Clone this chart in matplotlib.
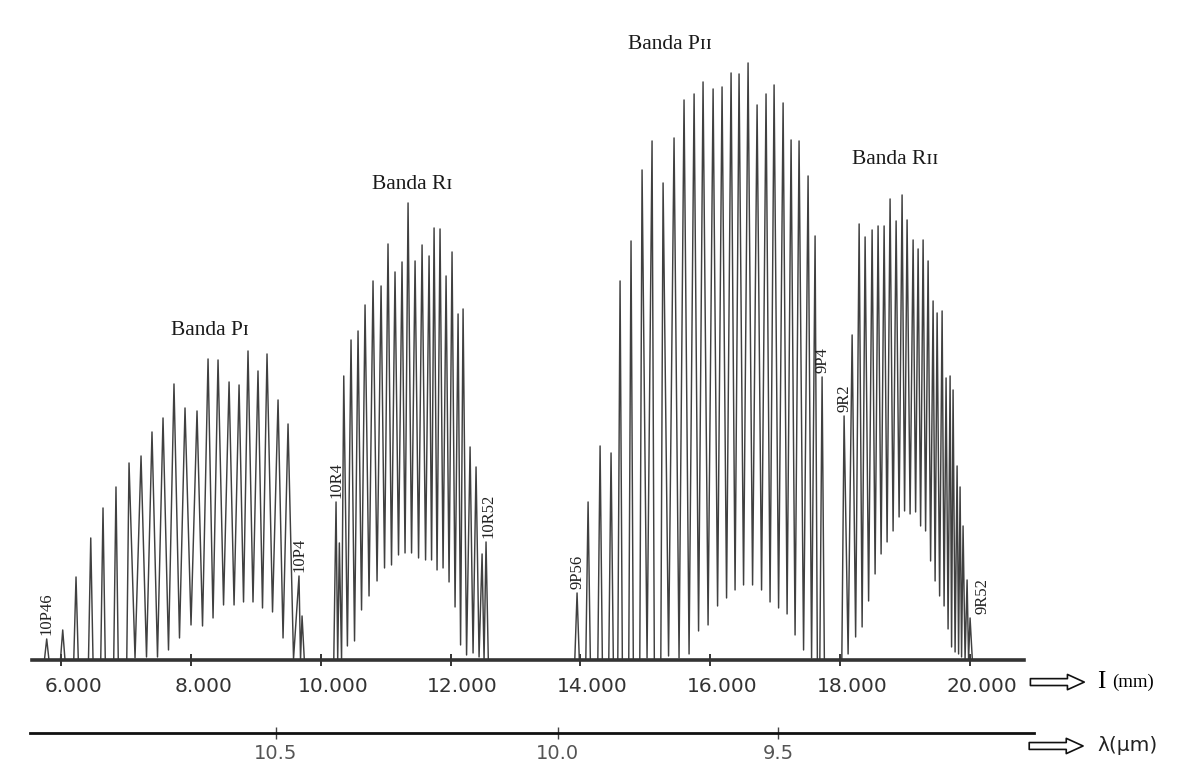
import numpy as np
import matplotlib
matplotlib.use('Agg')
import matplotlib.pyplot as plt
from matplotlib.transforms import ScaledTranslation

# chart position of each laser line (mm along the recorder paper) and trace heights (a.u.)
# Banda PI
p1_pos = [5773, 6020, 6225, 6452, 6641, 6841, 7042, 7227, 7396, 7566, 7735, 7905,
          8090, 8260, 8414, 8584, 8738, 8876, 9030, 9169, 9339, 9493, 9662, 9709]
p1_peak = [21, 30, 83, 122, 152, 173, 197, 204, 228, 242, 276, 252,
           249, 301, 300, 278, 275, 309, 289, 306, 260, 236, 84, 44]
p1_valley = [0, 0, 0, 0, 0, 0, 2, 3, 3, 10, 22, 35, 34, 42, 55, 55, 58, 58, 52, 48, 22, 1, 0]

# Banda RI
r1_pos = [10233, 10284, 10352, 10464, 10572, 10680, 10803, 10927, 11034, 11142, 11250, 11343,
          11451, 11559, 11667, 11744, 11836, 11929, 12021, 12114, 12191, 12299, 12391, 12484, 12545]
r1_peak = [158, 117, 284, 320, 329, 355, 379, 374, 416, 388, 398, 457,
           399, 415, 404, 432, 431, 384, 408, 346, 351, 213, 193, 106, 118]
r1_valley = [0, 0, 14, 19, 50, 64, 79, 92, 95, 105, 107, 107, 102, 100, 100, 90, 92, 78, 53, 15, 5, 7, 3, 0]

# Banda PII
p2_pos = [13948, 14118, 14303, 14472, 14611, 14780, 14950, 15104, 15274, 15443, 15597, 15752, 15890,
          16045, 16183, 16322, 16445, 16584, 16723, 16861, 16985, 17124, 17247, 17370, 17509, 17617, 17725]
p2_peak = [67, 158, 214, 207, 379, 419, 490, 519, 477, 522, 560, 566, 578,
           571, 573, 587, 586, 597, 555, 566, 575, 557, 520, 519, 484, 424, 283]
p2_valley = [0, 0, 0, 0, 0, 0, 2, 0, 4, 2, 6, 29, 35, 54, 62, 70, 75, 75, 70, 58, 52, 46, 25, 10, 2, 0]

# Banda RII
r2_pos = [18064, 18188, 18296, 18388, 18496, 18588, 18681, 18773, 18866, 18958, 19035, 19128, 19205,
          19282, 19359, 19436, 19498, 19575, 19636, 19698, 19744, 19806, 19852, 19898, 19960, 20006]
r2_peak = [244, 325, 436, 423, 430, 434, 434, 461, 439, 465, 440, 420, 411,
           420, 399, 359, 347, 349, 282, 284, 270, 194, 173, 134, 80, 42]
r2_valley = [6, 23, 33, 59, 86, 106, 118, 129, 143, 149, 146, 148, 134, 129, 99, 79, 64, 54, 31, 13, 8, 6, 3, 1, 0]

bands = {
    'PI': (p1_pos, p1_peak, p1_valley),
    'RI': (r1_pos, r1_peak, r1_valley),
    'PII': (p2_pos, p2_peak, p2_valley),
    'RII': (r2_pos, r2_peak, r2_valley),
}
band_titles = {'PI': 'Banda P\u026a', 'RI': 'Banda R\u026a',
               'PII': 'Banda P\u026a\u026a', 'RII': 'Banda R\u026a\u026a'}
band_title_x = {'PI': 8291, 'RI': 11404, 'PII': 15382, 'RII': 18851}
band_title_y = {'PI': 329, 'RI': 475, 'PII': 615, 'RII': 500}

# line tags: (text, band, index of line, x shift in px)
line_tags = [('10P46', 'PI', 0, 0), ('10P4', 'PI', 22, 0), ('10R4', 'RI', 0, 0),
             ('10R52', 'RI', 24, 2), ('9P56', 'PII', 0, 0), ('9P4', 'PII', 26, 0),
             ('9R2', 'RII', 0, 0), ('9R52', 'RII', 25, 12)]

mm_ticks = [6000, 8000, 10000, 12000, 14000, 16000, 18000, 20000]
mm_labels = ['6.000', '8.000', '10.000', '12.000', '14.000', '16.000', '18.000', '20.000']
lam_values = ['10.5', '10.0', '9.5']
lam_pos_mm = [9300, 13649, 17047]


def band_trace(pos, peak, valley, half=35.0):
    # spikes meet in a V where the trace does not fall back to the baseline,
    # isolated spikes keep a narrow foot
    pos = np.asarray(pos, float)
    valley = np.asarray(valley, float)
    gap = np.diff(pos) / 2
    w = np.where(valley > 0, gap, np.minimum(half, gap))
    left_w = np.r_[half, w]
    right_w = np.r_[w, half]
    lo_left = np.r_[0, valley]
    lo_right = np.r_[valley, 0]
    xs = np.column_stack([pos - left_w, pos, pos + right_w]).ravel()
    ys = np.column_stack([lo_left, peak, lo_right]).ravel()
    return xs, ys


fig = plt.figure(figsize=(11.88, 7.84), dpi=100)
ax = fig.add_axes([0.01894, 0.1582, 0.8519, 0.8036])
ax.set_xlim(5400, 21000)
ax.set_ylim(0, 630)

for key, (pos, peak, valley) in bands.items():
    xs, ys = band_trace(pos, peak, valley)
    ax.plot(xs, ys, color='#404040', lw=1.05)
    ax.text(band_title_x[key], band_title_y[key], band_titles[key], ha='center', va='center',
            fontsize=15.5, color='#1a1a1a', family=['Liberation Serif', 'DejaVu Serif'])

for text, key, idx, dx in line_tags:
    pos, peak, _ = bands[key]
    ax.annotate(text, (pos[idx], peak[idx]), xytext=(dx * 0.72, 3), textcoords='offset points',
                rotation=90, ha='center', va='bottom', fontsize=12,
                family='Liberation Serif', color='#222222')

for s in ['top', 'left', 'right']:
    ax.spines[s].set_visible(False)
ax.spines['bottom'].set_bounds(5550, 20840)
ax.spines['bottom'].set_linewidth(2.6)
ax.spines['bottom'].set_color('#333333')
ax.set_yticks([])
ax.set_xticks(mm_ticks)
ax.set_xticklabels(mm_labels)
ax.tick_params(axis='x', direction='inout', length=8, width=1.4, color='#333333',
               pad=8, labelsize=14.5, labelcolor='#333333')
shift = ScaledTranslation(0.12, 0, fig.dpi_scale_trans)
for lab in ax.get_xticklabels():
    lab.set_transform(lab.get_transform() + shift)
ax.patch.set_visible(False)

# wavelength scale
ax2 = fig.add_axes([0.01894, 0.065, 0.8519, 0.01])
ax2.set_xlim(5400, 21000)
for s in ['top', 'left', 'right']:
    ax2.spines[s].set_visible(False)
ax2.spines['bottom'].set_bounds(5516, 20990)
ax2.spines['bottom'].set_linewidth(2.0)
ax2.spines['bottom'].set_color('#111111')
ax2.set_yticks([])
ax2.set_xticks(lam_pos_mm)
ax2.set_xticklabels(lam_values)
ax2.tick_params(axis='x', direction='inout', length=8, width=1.0, color='#444444',
                pad=4, labelsize=14, labelcolor='#555555')
ax2.patch.set_visible(False)

# hollow arrows and axis names
arrow = dict(arrowstyle='simple,head_width=1.0,head_length=1.1,tail_width=0.45',
             fc='white', ec='#111111', lw=1.2, mutation_scale=11)
ax.annotate('', xy=(0.915, 0.130), xytext=(0.865, 0.130), xycoords='figure fraction',
            textcoords='figure fraction', arrowprops=arrow, annotation_clip=False)
ax.annotate('', xy=(0.914, 0.0485), xytext=(0.864, 0.0485), xycoords='figure fraction',
            textcoords='figure fraction', arrowprops=arrow, annotation_clip=False)
fig.text(0.9234, 0.130, 'I', fontsize=18, va='center', ha='left', family='Liberation Serif')
fig.text(0.936, 0.130, '(mm)', fontsize=13.5, va='center', ha='left', family='Liberation Serif')
fig.text(0.9234, 0.0485, '\u03bb(\u03bcm)', fontsize=14.5, va='center', ha='left', color='#222222')

fig.savefig('out.png', dpi=100, facecolor='white')
